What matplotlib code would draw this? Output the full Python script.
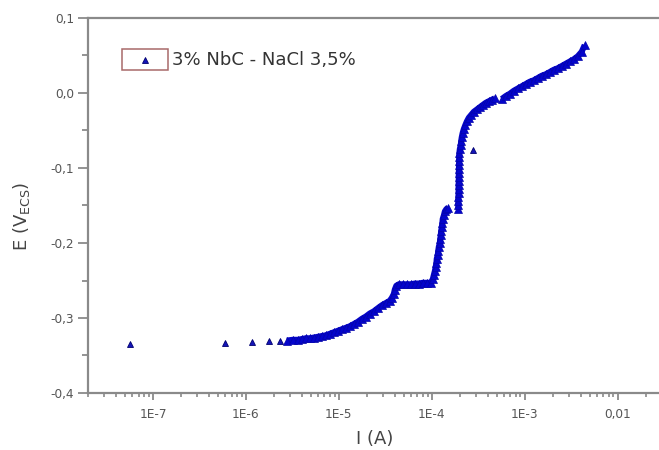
import matplotlib
matplotlib.use("Agg")
import matplotlib.pyplot as plt
from matplotlib.ticker import FixedLocator, FixedFormatter, LogLocator, MultipleLocator, NullFormatter
from matplotlib.patches import Rectangle

plt.rcParams['font.family'] = ['DejaVu Sans']
plt.rcParams['mathtext.default'] = 'regular'

# ---- data ----
# sparse cathodic start
sparse_I = [5.66e-8, 5.94e-7, 1.16e-6, 1.77e-6, 2.32e-6]
sparse_E = [-0.335, -0.333, -0.332, -0.331, -0.331]

# dense branch 1: cathodic curve, first step and rise to the hook
branch1_I = [
    2.76e-6, 3.20e-6, 3.62e-6, 4.00e-6, 4.42e-6, 4.88e-6, 5.38e-6, 5.94e-6,
    6.56e-6, 7.24e-6, 8.00e-6, 8.83e-6, 9.75e-6, 1.076e-5, 1.19e-5, 1.31e-5,
    1.45e-5, 1.60e-5, 1.77e-5, 1.95e-5, 2.15e-5, 2.38e-5, 2.62e-5, 2.90e-5,
    3.20e-5, 3.53e-5, 3.72e-5, 3.90e-5, 4.00e-5, 4.15e-5, 4.42e-5,
    4.88e-5, 5.38e-5, 5.94e-5, 6.56e-5, 7.24e-5, 8.00e-5, 8.83e-5, 9.75e-5,
    1.026e-4, 1.05e-4, 1.08e-4, 1.10e-4, 1.12e-4, 1.13e-4, 1.16e-4, 1.17e-4,
    1.19e-4, 1.22e-4, 1.23e-4, 1.25e-4, 1.26e-4, 1.28e-4, 1.30e-4, 1.31e-4,
    1.35e-4, 1.38e-4, 1.43e-4, 1.49e-4,
]
branch1_E = [
    -0.330, -0.329, -0.329, -0.328, -0.327, -0.327, -0.326, -0.325,
    -0.324, -0.323, -0.321, -0.319, -0.317, -0.315, -0.313, -0.311,
    -0.308, -0.305, -0.301, -0.298, -0.294, -0.291, -0.287, -0.283,
    -0.280, -0.277, -0.273, -0.268, -0.262, -0.257, -0.255,
    -0.255, -0.255, -0.255, -0.254, -0.254, -0.253, -0.253, -0.253,
    -0.248, -0.243, -0.237, -0.232, -0.227, -0.221, -0.216, -0.211,
    -0.205, -0.200, -0.195, -0.189, -0.184, -0.179, -0.173, -0.168,
    -0.163, -0.158, -0.155, -0.153,
]

# dense branch 2: vertical rise and knee
branch2_I = [
    1.93e-4, 1.93e-4, 1.93e-4, 1.93e-4, 1.94e-4, 1.94e-4, 1.94e-4, 1.95e-4,
    1.95e-4, 1.95e-4, 1.96e-4, 1.96e-4, 1.97e-4, 1.97e-4,
    1.98e-4, 2.00e-4, 2.05e-4, 2.07e-4, 2.10e-4, 2.15e-4, 2.21e-4, 2.29e-4,
    2.38e-4, 2.50e-4, 2.66e-4, 2.83e-4, 3.05e-4, 3.28e-4, 3.53e-4, 3.81e-4,
    4.10e-4, 4.42e-4, 4.75e-4,
]
branch2_E = [
    -0.155, -0.149, -0.144, -0.139, -0.133, -0.128, -0.123, -0.117,
    -0.112, -0.107, -0.101, -0.096, -0.091, -0.085,
    -0.080, -0.075, -0.069, -0.064, -0.059, -0.053, -0.048, -0.043,
    -0.038, -0.033, -0.029, -0.025, -0.022, -0.019, -0.016, -0.013,
    -0.011, -0.009, -0.007,
]

# dense branch 3: upper anodic line
branch3_I = [
    5.66e-4, 6.25e-4, 6.90e-4, 7.62e-4, 8.41e-4, 9.29e-4, 1.026e-3, 1.13e-3,
    1.25e-3, 1.38e-3, 1.52e-3, 1.68e-3, 1.86e-3, 2.05e-3, 2.26e-3, 2.50e-3,
    2.76e-3, 3.05e-3, 3.37e-3, 3.72e-3, 4.10e-3, 4.42e-3,
]
branch3_E = [
    -0.008, -0.004, -0.001, 0.003, 0.006, 0.009, 0.012, 0.015,
    0.017, 0.020, 0.023, 0.025, 0.028, 0.031, 0.033, 0.036,
    0.039, 0.042, 0.045, 0.049, 0.055, 0.064,
]

# isolated point
outlier_I = [2.76e-4]
outlier_E = [-0.076]

series_label = "3% NbC - NaCl 3,5%"
x_tick_values = [1e-7, 1e-6, 1e-5, 1e-4, 1e-3, 1e-2]
x_tick_labels = ["1E-7", "1E-6", "1E-5", "1E-4", "1E-3", "0,01"]
y_tick_values = [-0.4, -0.3, -0.2, -0.1, 0.0, 0.1]
y_tick_labels = ["-0,4", "-0,3", "-0,2", "-0,1", "0,0", "0,1"]

# ---- figure ----
fig = plt.figure(figsize=(6.59, 4.50), dpi=100)
ax = fig.add_axes([88/659, 57/450, 574/659, 375/450])

band = '#0505cc'
band_edge = '#0404aa'
fill = '#1414b8'
edge = '#00006e'
msize = 4.8

for bi, be in [(branch1_I, branch1_E), (branch2_I, branch2_E), (branch3_I, branch3_E)]:
    ax.plot(bi, be, linestyle='-', color=band, linewidth=4.3, solid_capstyle='butt',
            marker='^', markersize=msize + 0.6, markerfacecolor=band,
            markeredgecolor=band_edge, markeredgewidth=0.5)
for bi, be in [(sparse_I, sparse_E), (outlier_I, outlier_E)]:
    ax.plot(bi, be, linestyle='none', marker='^', markersize=msize,
            markerfacecolor=fill, markeredgecolor=edge, markeredgewidth=0.6)

ax.set_xscale('log')
ax.set_xlim(2e-8, 3e-2)
ax.set_ylim(-0.4, 0.1)

ax.xaxis.set_major_locator(FixedLocator(x_tick_values))
ax.xaxis.set_major_formatter(FixedFormatter(x_tick_labels))
ax.xaxis.set_minor_locator(LogLocator(base=10, subs=range(2, 10), numticks=20))
ax.xaxis.set_minor_formatter(NullFormatter())
ax.yaxis.set_major_locator(FixedLocator(y_tick_values))
ax.yaxis.set_major_formatter(FixedFormatter(y_tick_labels))
ax.yaxis.set_minor_locator(MultipleLocator(0.05))

spine_c = '#8a8a8a'
for s in ['left', 'bottom', 'top']:
    ax.spines[s].set_color(spine_c)
    ax.spines[s].set_linewidth(1.6)
ax.spines['right'].set_visible(False)

ax.tick_params(axis='both', which='major', direction='out', color=spine_c,
               width=1.3, labelcolor='#555555', labelsize=8.7)
ax.tick_params(axis='y', which='major', length=7, pad=3)
ax.tick_params(axis='y', which='minor', direction='out', length=4, width=1.3, color=spine_c)
ax.tick_params(axis='x', which='major', length=5, pad=6)
ax.tick_params(axis='x', which='minor', direction='out', length=3, width=1.2, color=spine_c)
ax.tick_params(top=False, which='both')

ax.set_xlabel("I (A)", fontsize=13, color='#444444', labelpad=6)
ax.set_ylabel("E (V$_{ECS}$)", fontsize=13, color='#444444')
ax.yaxis.set_label_coords(-0.098, 0.472)

# Origin-style legend: box around symbol only
def to_ax(px, py):
    return ((px - 88) / 574, (393 - py) / 375)
x0, y0 = to_ax(122, 70)
x1, y1 = to_ax(168, 49)
ax.add_patch(Rectangle((x0, y0), x1 - x0, y1 - y0, transform=ax.transAxes,
                       fill=False, edgecolor='#a86a6a', linewidth=1.1))
mx, my = to_ax(145, 60)
ax.plot([mx], [my], transform=ax.transAxes, linestyle='none', marker='^',
        markersize=msize, markerfacecolor=fill, markeredgecolor=edge, markeredgewidth=0.6)
tx, ty = to_ax(172, 60)
ax.text(tx, ty, series_label, transform=ax.transAxes, fontsize=13,
        color='#333333', va='center', ha='left')

fig.savefig("out.png", dpi=100)
